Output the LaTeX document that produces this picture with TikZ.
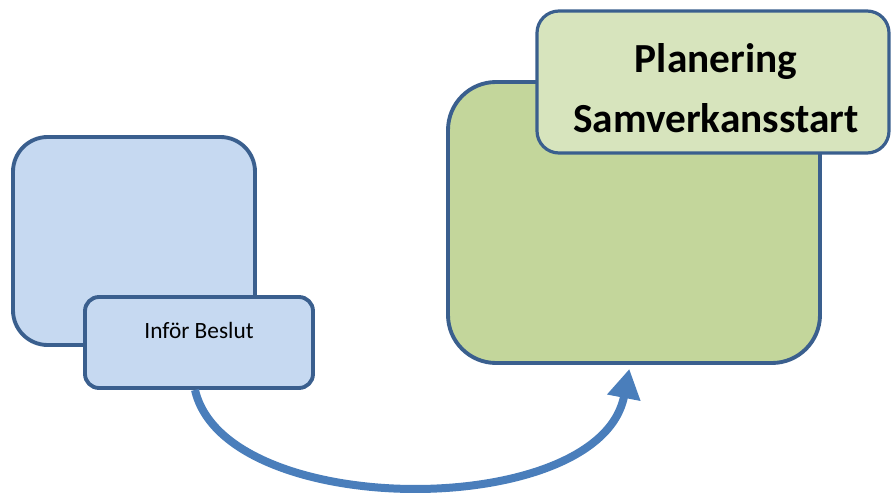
\documentclass[tikz,border=0pt]{standalone}
\usepackage{fontspec}
\setmainfont{Carlito}
\usetikzlibrary{arrows.meta}

\definecolor{boxblue}{HTML}{C6D9F1}
\definecolor{boxgreen}{HTML}{C3D69B}
\definecolor{labelgreen}{HTML}{D7E4BD}
\definecolor{edgeblue}{HTML}{3A5F8E}
\definecolor{flowblue}{HTML}{4A7EBB}

\tikzset{
  phase/.style={draw=edgeblue, line width=2.9pt, rectangle, inner sep=0pt},
  flow/.style={draw=flowblue, line width=6pt, -{Triangle[length=22pt,width=24pt]}}
}

\begin{document}
\begin{tikzpicture}[x=0.75pt,y=-0.75pt]
	\useasboundingbox (0,0) rectangle (892,495);

	\node[phase, fill=boxblue, minimum width=181.5pt, minimum height=156pt, rounded corners=26pt] (beslutbg) at (134,241) {};
	\node[phase, fill=boxblue, minimum width=171pt, minimum height=68.25pt, rounded corners=10.5pt] (beslut) at (199,342.5) {};
	\node[font=\fontsize{17.5}{21}\selectfont] (besluttext) at (199,330) {Inför Beslut};

	\node[phase, fill=boxgreen, minimum width=279pt, minimum height=210.75pt, rounded corners=36pt] (plan) at (634,222.5) {};
	\node[phase, fill=labelgreen, line width=2.4pt, minimum width=264pt, minimum height=106.5pt, rounded corners=16.5pt] (planlabel) at (713,82) {};
	\node[align=center, font=\fontsize{31}{45}\selectfont\bfseries] (plantext) at (716,88) {Planering\\Samverkansstart};

	\draw[flow] ([xshift=-3pt]beslut.south) .. controls (225,521) and (600,521) .. ([xshift=-3.5pt,yshift=-3pt]plan.south);
\end{tikzpicture}
\end{document}
